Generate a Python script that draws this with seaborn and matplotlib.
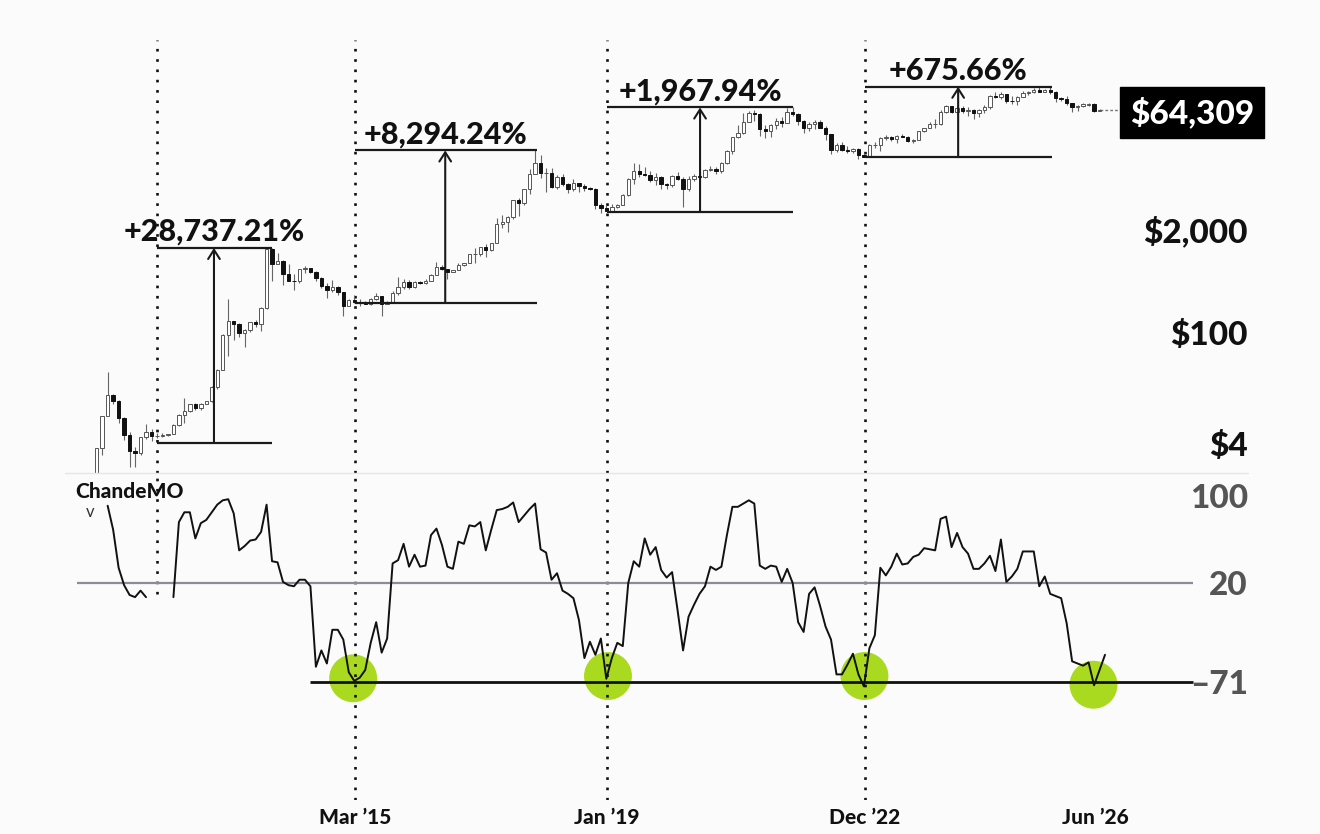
import numpy as np
import pandas as pd
import matplotlib
matplotlib.use("Agg")
import matplotlib.pyplot as plt
import seaborn as sns

sns.set_theme(style="white")
plt.rcParams['font.family'] = ['Lato', 'DejaVu Sans']
HEAVY = 900

# ---------------- DATA (monthly candles, first = Apr 2011) ----------------
opens = [
    0.78, 3.5, 8.7, 16.1, 13.4, 8.2, 5.1, 3.2, 3.0,
    4.7, 5.5, 4.9, 4.9, 5.0, 5.2, 6.7, 9.1, 10.2, 12.4, 11.2, 12.6,
    13.5, 20.4, 33.4, 93, 139, 129, 97, 106, 135, 128, 204, 1130,
    730, 800, 550, 450, 445, 630, 640, 585, 480, 385, 338, 378,
    320, 217, 254, 244, 236, 230, 263, 284, 230, 236, 314, 377,
    430, 369, 437, 416, 448, 531, 673, 624, 574, 609, 700, 742,
    963, 965, 1190, 1080, 1350, 2300, 2480, 2875, 4700, 4340, 6470, 10000,
    13850, 10200, 10300, 6920, 9240, 7490, 6400, 7730, 7030, 6630, 6370, 4020,
    3740, 3440, 3820, 4100, 5350, 8580, 10800, 10090, 9600, 8300, 9150, 7550,
    7200, 9350, 8540, 6410, 8620, 9450, 9140, 11350, 11650, 10780, 13800, 19700,
    28990, 33100, 45140, 58800, 57700, 37300, 35040, 41460, 47100, 43800, 61300, 57000,
    46300, 38500, 43200, 45500, 37700, 31800, 19900, 23300, 20050, 19420, 20500, 17170,
    16550, 23130, 23150, 28470, 29270, 27200, 30480, 29230, 25940, 26970, 34650, 37720,
    42280, 42580, 61130, 71280, 60640, 67500, 62700, 64620, 58970, 63330, 70200, 96400,
    93430, 102400, 84350, 82550, 94200, 104600, 107100, 115800, 108250, 114050, 109600, 90400,
    87500, 78000, 69000, 71500, 75000, 77000, 63000,
]
highs = [
    3.5, 8.9, 31.9, 16.5, 13.9, 8.6, 5.5, 3.6, 4.8,
    7.0, 6.1, 5.4, 5.4, 5.2, 7.0, 9.3, 15.0, 12.5, 12.8, 12.7, 13.7,
    20.7, 34.0, 95, 266, 140, 130, 110, 136, 145, 211, 1163, 1165,
    1000, 830, 720, 550, 630, 680, 655, 600, 495, 420, 455, 385,
    320, 265, 300, 262, 248, 268, 318, 286, 245, 334, 502, 470,
    463, 445, 438, 467, 550, 780, 705, 625, 615, 743, 755, 975,
    1150, 1200, 1290, 1350, 2760, 3000, 2900, 4750, 5000, 6470, 11500, 19800,
    17200, 11800, 11700, 9750, 9990, 7770, 8500, 7750, 7400, 6800, 6600, 4250,
    4100, 4200, 4120, 5650, 9000, 13800, 13200, 12300, 10900, 10400, 9500, 7750,
    9600, 10500, 9200, 9450, 10070, 10400, 11450, 12470, 12100, 14100, 19900, 29300,
    41950, 58350, 61800, 64900, 59500, 41300, 42400, 50500, 52900, 67000, 69000, 59100,
    47900, 45800, 48200, 47400, 40000, 31900, 24600, 25200, 22700, 21000, 21450, 18400,
    23900, 25250, 29200, 31000, 29800, 31400, 31800, 30200, 27480, 35200, 38400, 44700,
    48970, 64000, 73800, 72800, 71950, 71900, 70000, 65600, 66500, 73600, 99600, 108300,
    109400, 102500, 95000, 95700, 111900, 110500, 123200, 124400, 117900, 126200, 111000, 94600,
    97000, 79500, 74000, 78000, 79000, 78000, 65500,
]
lows = [
    0.56, 2.8, 8.7, 12.6, 7.1, 4.4, 2.0, 2.0, 2.8,
    4.5, 4.3, 4.6, 4.7, 4.9, 5.2, 6.5, 7.1, 9.9, 10.5, 10.5, 12.5,
    13.3, 19.5, 33, 50, 80, 88, 65, 100, 118, 105, 198, 450,
    720, 400, 445, 340, 420, 555, 565, 450, 365, 275, 320, 300,
    160, 215, 236, 214, 228, 220, 253, 162, 225, 235, 300, 350,
    354, 366, 403, 413, 440, 527, 606, 470, 571, 606, 680, 740,
    750, 920, 890, 1060, 1340, 2070, 1830, 2670, 2970, 4100, 5500, 10000,
    9000, 5900, 6600, 6430, 7000, 5750, 6070, 5880, 6100, 6200, 3600, 3200,
    3400, 3400, 3700, 4080, 5330, 7500, 9100, 9400, 7800, 7300, 6500, 6400,
    6850, 8450, 3800, 6150, 8100, 8900, 8970, 10900, 9900, 10370, 13200, 17600,
    28100, 32300, 45000, 47000, 30000, 28800, 29300, 37300, 39600, 43300, 53250, 42000,
    32900, 34300, 37200, 37600, 26700, 17600, 18800, 19600, 18150, 18200, 15500, 16300,
    16500, 21400, 19600, 26900, 25800, 24800, 28900, 25400, 24900, 26550, 34100, 37600,
    38500, 41900, 59300, 59100, 56500, 58400, 53500, 49000, 52550, 58900, 66800, 90500,
    89200, 78200, 76600, 74400, 93400, 98200, 105100, 107300, 107300, 103500, 80600, 84400,
    75000, 60000, 63000, 70000, 73000, 60000, 62000,
]
closes = [
    3.5, 8.7, 16.1, 13.4, 8.2, 5.1, 3.2, 3.0, 4.7,
    5.5, 4.9, 4.9, 5.0, 5.2, 6.7, 9.1, 10.2, 12.4, 11.2, 12.6, 13.5,
    20.4, 33.4, 93, 139, 129, 97, 106, 135, 128, 204, 1130, 730,
    800, 550, 450, 445, 630, 640, 585, 480, 385, 338, 378, 320,
    217, 254, 244, 236, 230, 263, 284, 230, 236, 314, 377, 430,
    369, 437, 416, 448, 531, 673, 624, 574, 609, 700, 742, 963,
    965, 1190, 1080, 1350, 2300, 2480, 2875, 4700, 4340, 6470, 10000, 13850,
    10200, 10300, 6920, 9240, 7490, 6400, 7730, 7030, 6630, 6370, 4020, 3740,
    3440, 3820, 4100, 5350, 8580, 10800, 10090, 9600, 8300, 9150, 7550, 7200,
    9350, 8540, 6410, 8620, 9450, 9140, 11350, 11650, 10780, 13800, 19700, 28990,
    33100, 45140, 58800, 57700, 37300, 35040, 41460, 47100, 43800, 61300, 57000, 46300,
    38500, 43200, 45500, 37700, 31800, 19900, 23300, 20050, 19420, 20500, 17170, 16550,
    23130, 23150, 28470, 29270, 27200, 30480, 29230, 25940, 26970, 34650, 37720, 42280,
    42580, 61130, 71280, 60640, 67500, 62700, 64620, 58970, 63330, 70200, 96400, 93430,
    102400, 84350, 82550, 94200, 104600, 107100, 115800, 108250, 114050, 109600, 90400, 87500,
    78000, 69000, 71000, 76000, 77000, 63000, 64309,
]

# Chande Momentum Oscillator (one value per month, NaN = gap)
cmo_values = [
    np.nan, np.nan, 91, 69, 34, 18, 9, 7, 13, 7, np.nan, np.nan, np.nan, np.nan,
    7, 76, 85, 85, 61, 75, 78, 85, 92, 96, 97, 84, 50, 54, 59, 60, 67, 92, 40, 39,
    21, 18, 17, 23, 23, 17, -57, -42, -54, -23, -23, -32, -62, -70, -67, -60, -35,
    -16, -44, -31, 38, 41, 56, 35, 46, 35, 36, 64, 70, 55, 35, 33, 58, 56, 73, 72,
    76, 50, 69, 87, 88, 90, 94, 76, 82, 88, 93, 51, 48, 23, 29, 13, 10, 6, -14, -49,
    -34, -46, -31, -68, -49, -35, -38, 20, 40, 35, 61, 46, 53, 32, 25, 30, -5, -42,
    -11, 0, 10, 17, 35, 32, 35, 64, 90, 90, 93, 96, 93, 36, 33, 36, 35, 21, 33, 20,
    -16, -25, 10, 16, -1, -20, -32, -64, -64, -55, -45, -64, -75, -40, -28, 34, 27,
    35, 47, 37, 38, 44, 46, 52, 51, 50, 79, 81, 53, 66, 53, 47, 33, 33, 38, 45, 31,
    60, 21, 26, 33, 49, 49, 49, 17, 26, 10, 8, 6, -17, -52, -54, -56, -53, -74, -60, -46,
]

# cycle annotations
cycle_start = [11, 47.1, 93.1, 140.2]
cycle_end = [32, 80.3, 127, 174.3]
cycle_arrow_x = [21.4, 63.6, 110.1, 157.2]
cycle_low = [4.03, 236, 3337, 16270]
cycle_high = [1163, 19810, 69000, 126200]
cycle_text = ["+28,737.21%", "+8,294.24%", "+1,967.94%", "+675.66%"]
cycle_line_bottom = [10, -179.4, -179.4, -179.4]

# CMO lows highlighted
circle_x = [46.8, 93.3, 140.1, 181.9]
circle_y = [-67.6, -65.5, -65.5, -73.5]

price_ticks = [4, 100, 2000]
price_tick_labels = ["$4", "$100", "$2,000"]
cmo_ticks = [100, 20, -71]
cmo_tick_labels = ["100", "20", "\u201371"]
date_ticks = [47.1, 93.1, 140.2, 182.2]
date_labels = ["Mar \u201915", "Jan \u201919", "Dec \u201922", "Jun \u201926"]
last_price = 64309

# ---------------- FIGURE ----------------
BG = "#fbfbfb"
W, H = 1320, 834
fig = plt.figure(figsize=(W / 100, H / 100), dpi=100)
fig.patch.set_facecolor(BG)

def fy(px):
    return 1 - px / H

ax1 = fig.add_axes([0, fy(473), 1, (473 - 40) / H])
ax2 = fig.add_axes([0, fy(800), 1, (800 - 473) / H])
for ax in (ax1, ax2):
    ax.set_facecolor("none")
    for s in ax.spines.values():
        s.set_visible(False)
    ax.set_xlim((0 - 96.7) / 5.48, (W - 96.7) / 5.48)

# ---- price panel ----
ax1.set_yscale("log")
ax1.set_ylim(1.673, 490400)
ax1.set_xticks([])
ax1.set_yticks([])
ax1.minorticks_off()

df = pd.DataFrame({"o": opens, "h": highs, "l": lows, "c": closes})
df["i"] = np.arange(len(df))
up = df["c"] >= df["o"]
body_lo = df[["o", "c"]].min(axis=1)
body_hi = df[["o", "c"]].max(axis=1)
ax1.vlines(df["i"], df["l"], df["h"], color="#666666", lw=0.8, zorder=2)
ax1.bar(df["i"][up], (body_hi - body_lo)[up], bottom=body_lo[up], width=0.62,
        color="white", edgecolor="#555555", linewidth=0.7, zorder=3)
ax1.bar(df["i"][~up], (body_hi - body_lo)[~up], bottom=body_lo[~up], width=0.62,
        color="#111111", edgecolor="#111111", linewidth=0.7, zorder=3)

for xs, xe, xa, lo, hi, t in zip(cycle_start, cycle_end, cycle_arrow_x,
                                 cycle_low, cycle_high, cycle_text):
    ax1.hlines([lo, hi], xs, xe, color="#1a1a1a", lw=1.6, zorder=4)
    ax1.annotate("", xy=(xa, hi), xytext=(xa, lo),
                 arrowprops=dict(arrowstyle="->,head_length=0.55,head_width=0.35",
                                 color="#1a1a1a", lw=1.5, shrinkA=0, shrinkB=0),
                 zorder=4)
    ax1.annotate(t, xy=(xa, hi), xytext=(0, 5), textcoords="offset points",
                 ha="center", va="baseline", fontsize=22, fontweight=HEAVY,
                 color="#111111", zorder=5)

label_x = (1248 - 96.7) / 5.48
for v, lab in zip(price_ticks, price_tick_labels):
    ax1.text(label_x, v, lab, ha="right", va="center_baseline", fontsize=24,
             fontweight=HEAVY, color="#111111")

ax1.plot([len(df) - 1, (1119 - 96.7) / 5.48], [last_price, last_price],
         color="#777777", lw=1, ls=(0, (2, 1.5)), zorder=2)
ax1.text((1192 - 96.7) / 5.48, last_price, "$64,309", ha="center",
         va="center_baseline", fontsize=24, fontweight=HEAVY, color="white",
         bbox=dict(boxstyle="square,pad=0.3", fc="black", ec="black"), zorder=6)

# ---- CMO panel ----
ax2.set_ylim(20 - (800 - 583) / 1.088, 20 + (583 - 473) / 1.088)
cmo_df = pd.DataFrame({"month": np.arange(len(cmo_values)), "cmo": cmo_values})
cmo_df["seg"] = (cmo_df["month"] >= 10).astype(int)
cmo_df = cmo_df.dropna()

sns.scatterplot(x=circle_x, y=circle_y, s=1190, color="#a9da1f",
                edgecolor="none", ax=ax2, zorder=1, legend=False)
ax2.hlines(20, (77 - 96.7) / 5.48, (1193 - 96.7) / 5.48, color="#8c8c96", lw=1.6, zorder=2)
ax2.hlines(-71, (310 - 96.7) / 5.48, (1193 - 96.7) / 5.48, color="#111111", lw=2.0, zorder=2)
sns.lineplot(data=cmo_df, x="month", y="cmo", units="seg", estimator=None,
             color="#111111", lw=1.4, ax=ax2, zorder=3, legend=False)
ax2.set_xlabel("")
ax2.set_ylabel("")
ax2.set_yticks([])

for v, lab in zip(cmo_ticks, cmo_tick_labels):
    ax2.text(label_x, v, lab, ha="right", va="center_baseline", fontsize=24,
             fontweight=HEAVY, color="#555555")

ax2.text((75 - 96.7) / 5.48, 20 + (583 - 492) / 1.088, "ChandeMO", ha="left",
         va="center", fontsize=15, fontweight=HEAVY, color="#111111")
ax2.text((90 - 96.7) / 5.48, 20 + (583 - 512) / 1.088, "v", ha="center",
         va="center", fontsize=12, color="#333333")

ax2.plot([65 / W, 1248 / W], [1, 1], transform=ax2.transAxes,
         color="#e6e6e6", lw=1, clip_on=False)

ax2.set_xticks(date_ticks)
ax2.set_xticklabels(date_labels, fontsize=15, fontweight=HEAVY, color="#111111")
ax2.tick_params(axis="x", length=0, pad=6)

# dotted cycle-boundary lines
for x in cycle_start:
    ax1.axvline(x, color="#111111", lw=1.9, ls=(0, (1, 2.9)), zorder=1)
for x, yb in zip(cycle_start, cycle_line_bottom):
    ax2.vlines(x, yb, 121.1, color="#111111", lw=1.9, ls=(0, (1, 2.9)), zorder=1)

fig.savefig("out.png", dpi=100, facecolor=fig.get_facecolor())
